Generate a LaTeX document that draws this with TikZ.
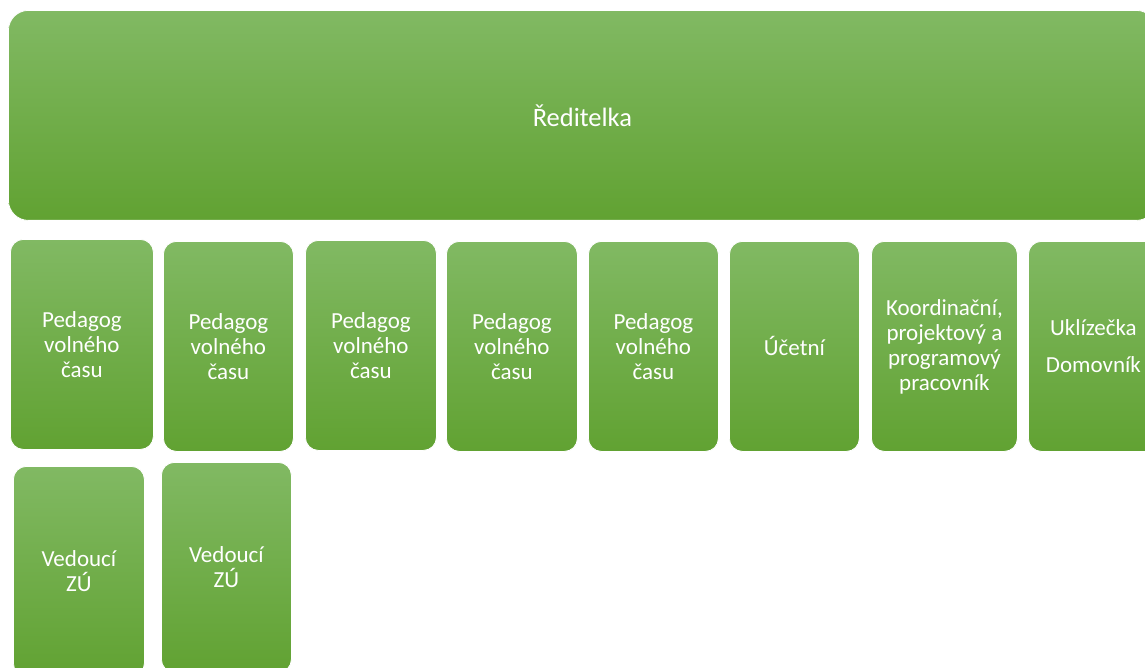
\documentclass[tikz,border=0pt]{standalone}
\usepackage{fontspec}
\setmainfont{Carlito}
\definecolor{gtop}{RGB}{129,185,99}
\definecolor{gmid}{RGB}{112,173,71}
\definecolor{gbot}{RGB}{97,162,50}
\tikzset{
  box/.style={draw=white, line width=0.8pt, rounded corners=#1, top color=gtop, middle color=gmid, bottom color=gbot,
    anchor=north west, inner sep=0pt, align=center, text=white,
    font=\fontsize{23}{25}\selectfont},
  box/.default=13pt
}
\begin{document}
\begin{tikzpicture}[x=1pt,y=-1pt]
\clip (0,0) rectangle (1145,668);
\fill[white] (0,0) rectangle (1145,668);
\node[box=20pt, minimum width=1148pt, minimum height=210pt, font=\fontsize{26.5}{30}\selectfont] (dir) at (8,10) {Ředitelka};
\node[box, minimum width=143pt, minimum height=210pt] (p1) at (10,239) {Pedagog\\volného\\času};
\node[box, minimum width=130pt, minimum height=210pt] (p2) at (163,241) {Pedagog\\volného\\času};
\node[box, minimum width=131pt, minimum height=210pt] (p3) at (305,240) {Pedagog\\volného\\času};
\node[box, minimum width=131pt, minimum height=210pt] (p4) at (446,241) {Pedagog\\volného\\času};
\node[box, minimum width=130pt, minimum height=210pt] (p5) at (588,241) {Pedagog\\volného\\času};
\node[box, minimum width=130pt, minimum height=210pt] (uc) at (729,241) {Účetní};
\node[box, minimum width=146pt, minimum height=210pt] (ko) at (871,241) {Koordinační,\\projektový a\\programový\\pracovník};
\node[box, minimum width=130pt, minimum height=210pt, font=\fontsize{23}{37}\selectfont] (uk) at (1028,241) {Uklízečka\\Domovník};
\node[box, minimum width=131pt, minimum height=210pt] (v1) at (13,466) {Vedoucí\\ZÚ};
\node[box, minimum width=130pt, minimum height=210pt] (v2) at (161,462) {Vedoucí\\ZÚ};
\end{tikzpicture}
\end{document}
